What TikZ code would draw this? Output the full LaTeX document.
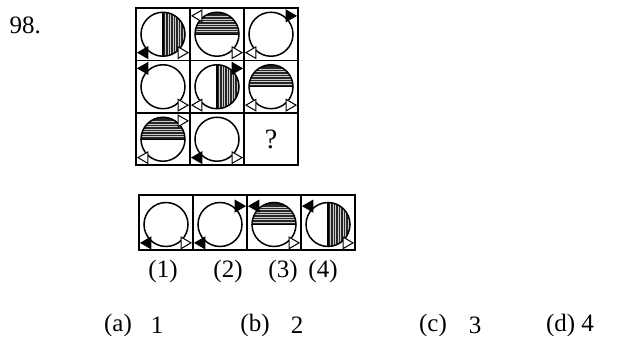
\documentclass[tikz,border=0pt]{standalone}
\usepackage{fontspec}
\setmainfont{Liberation Serif}
\usetikzlibrary{shapes.geometric}
\tikzset{
  every picture/.style={line width=1.3pt},
  frame/.style={draw, line width=1.5pt},
  ring/.style={draw, line width=1.5pt},
  tip/.style={draw, fill=#1, isosceles triangle, isosceles triangle apex angle=60,
    minimum size=10pt, inner sep=0pt, line width=1pt},
  tip/.default=white,
  txt/.style={font=\fontsize{25}{28}\selectfont, inner sep=0pt},
}
% one circle figure: #1 centre, #2 shading (0 none, 1 right half, 2 top half), #3 tips angle/colour
\newcommand{\ringfig}[3]{%
  \begin{scope}[shift={#1}]
    \ifnum#2=1
      \begin{scope}
        \clip (0,0) circle (22);
        \fill[black!85] (0,-22) rectangle (22,22);
        \foreach \s in {2.5,5,...,21} \draw[white!80!black, line width=0.5pt] (\s,-22) -- (\s,22);
      \end{scope}
      \draw (0,-22) -- (0,22);
    \fi
    \ifnum#2=2
      \begin{scope}
        \clip (0,0) circle (22);
        \fill[black!85] (-22,0) rectangle (22,22);
        \foreach \s in {2.5,5,...,18} \draw[white!80!black, line width=0.5pt] (-22,\s) -- (22,\s);
      \end{scope}
      \draw (-22,0) -- (22,0);
    \fi
    \draw[ring] (0,0) circle (22);
    \foreach \a/\c in {#3} {
      \pgfmathsetmacro\pt{cos(\a)>0 ? 0 : 180}
      \node[tip=\c, shape border rotate=\pt] at (\a:26) {};
    }
  \end{scope}}

\begin{document}
\begin{tikzpicture}[x=1pt, y=1pt]
  \useasboundingbox (0,0) rectangle (630,345);
  \node[txt, anchor=west] (num) at (9,320) {98.};
  % question grid
  \draw[frame] (136,180) rectangle (298,337);
  \foreach \x in {190,244} \draw[frame] (\x,180) -- (\x,337);
  \foreach \y in {284.5,232} \draw[frame] (136,\y) -- (298,\y);
  \ringfig{(163,310.75)}{1}{225/black, 315/white}
  \ringfig{(217,310.75)}{2}{135/white, 315/white}
  \ringfig{(271,310.75)}{0}{45/black, 225/white}
  \ringfig{(163,258.25)}{0}{135/black, 315/white}
  \ringfig{(217,258.25)}{1}{45/black, 225/white}
  \ringfig{(271,258.25)}{2}{225/white, 315/white}
  \ringfig{(163,205.75)}{2}{45/white, 225/white}
  \ringfig{(217,205.75)}{0}{225/black, 315/white}
  \node[txt, font=\fontsize{28}{30}\selectfont] (ask) at (271,205.75) {?};
  % answer figures
  \draw[frame] (139,95) rectangle (355,150);
  \foreach \x in {193,247,301} \draw[frame] (\x,95) -- (\x,150);
  \ringfig{(166,120.5)}{0}{225/black, 315/white}
  \ringfig{(220,120.5)}{0}{45/black, 225/black}
  \ringfig{(274,120.5)}{2}{135/black, 315/white}
  \ringfig{(328,120.5)}{1}{135/black, 315/white}
  \foreach \x/\t in {163/1, 228/2, 283/3, 323/4}
    \node[txt] (opt\t) at (\x,74) {(\t)};
  % choices
  \node[txt] (ca) at (118,20) {(a)};
  \node[txt] (va) at (157,20) {1};
  \node[txt] (cb) at (255,20) {(b)};
  \node[txt] (vb) at (297,20) {2};
  \node[txt] (cc) at (433,20) {(c)};
  \node[txt] (vc) at (475,20) {3};
  \node[txt] (cd) at (570,20) {(d) 4};
\end{tikzpicture}
\end{document}
